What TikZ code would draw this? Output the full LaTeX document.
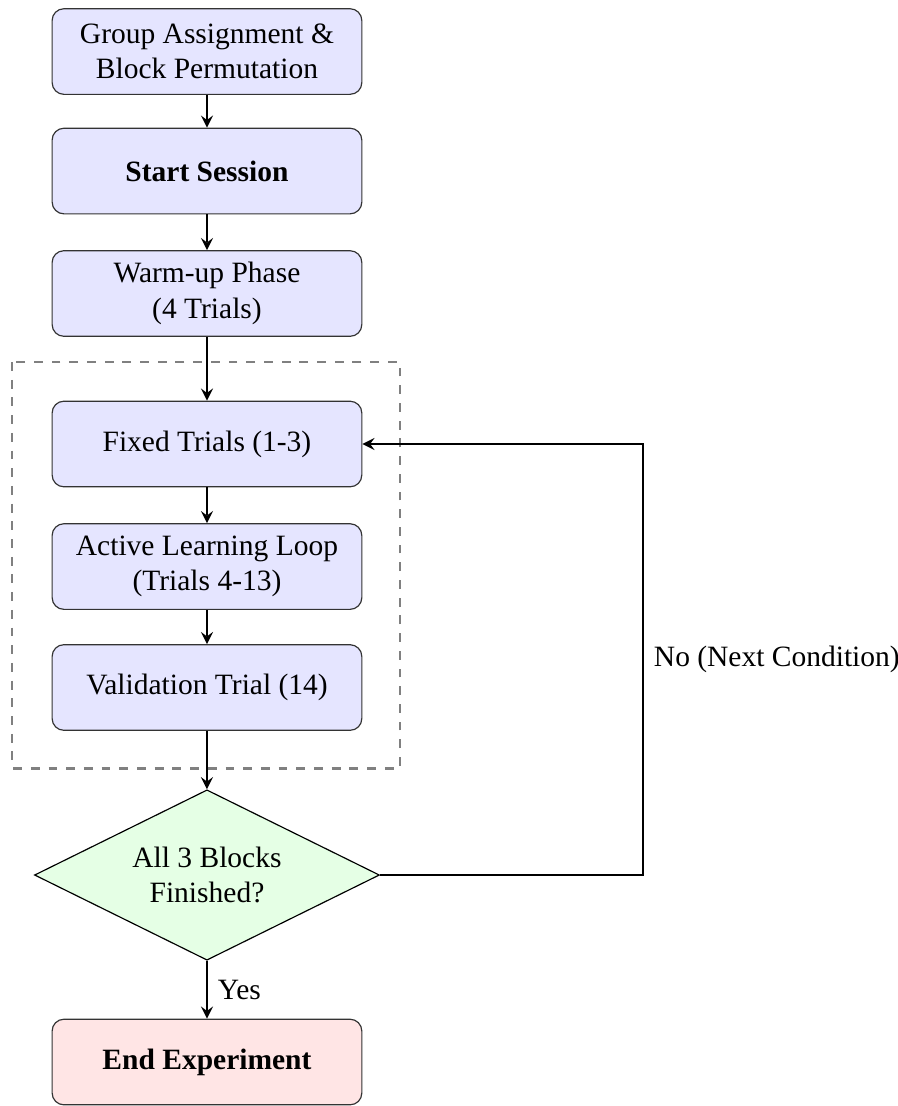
\documentclass[tikz,border=0pt]{standalone}
\usepackage{fontspec}
\setmainfont{Liberation Serif}
\usetikzlibrary{shapes.geometric}
\tikzstyle{process}=[rectangle, rounded corners, draw=black!80, fill=blue!10, minimum width=3.69cm, minimum height=1.02cm, align=center]
\tikzstyle{decision}=[diamond, aspect=2, draw, fill=green!10, minimum width=4.11cm, minimum height=2.03cm, inner sep=0pt, align=center]
\tikzstyle{stopbox}=[process, fill=red!10]

\begin{document}
\begin{tikzpicture}
      \useasboundingbox (-2.466,0.614) rectangle (8.221,-12.563);
      % block loop frame
      \draw[dashed, thick, gray] (-2.32,-3.70) rectangle (2.30,-8.54);
      \node[process](grp) at (0, 0) {Group Assignment \&\\Block Permutation};
      \node[process](start) at (0, -1.424) {\textbf{Start Session}};
      \node[process](warm) at (0, -2.883) {Warm-up Phase\\(4 Trials)};
      \node[process](fixed) at (0, -4.676) {Fixed Trials (1-3)};
      \node[process](active) at (0, -6.136) {Active Learning Loop\\(Trials 4-13)};
      \node[process](valid) at (0, -7.577) {Validation Trial (14)};
      \node[decision](check) at (0, -9.811) {All 3 Blocks\\Finished?};
      \node[stopbox](finish) at (0, -12.039) {\textbf{End Experiment}};
      \coordinate (turn) at (5.194, -9.811);
      \begin{scope}[every path/.style={-stealth, thick}]
        \draw (grp) -- (start);
        \draw (start) -- (warm);
        \draw (warm) -- (fixed);
        \draw (fixed) -- (active);
        \draw (active) -- (valid);
        \draw (valid) -- (check);
        \draw (check) -- node[right]{Yes} (finish);
        \draw (check.east) -| node[pos=0.75, right]{No (Next Condition)} (turn |- fixed.east) -- (fixed.east);
      \end{scope}
    \end{tikzpicture}
\end{document}
